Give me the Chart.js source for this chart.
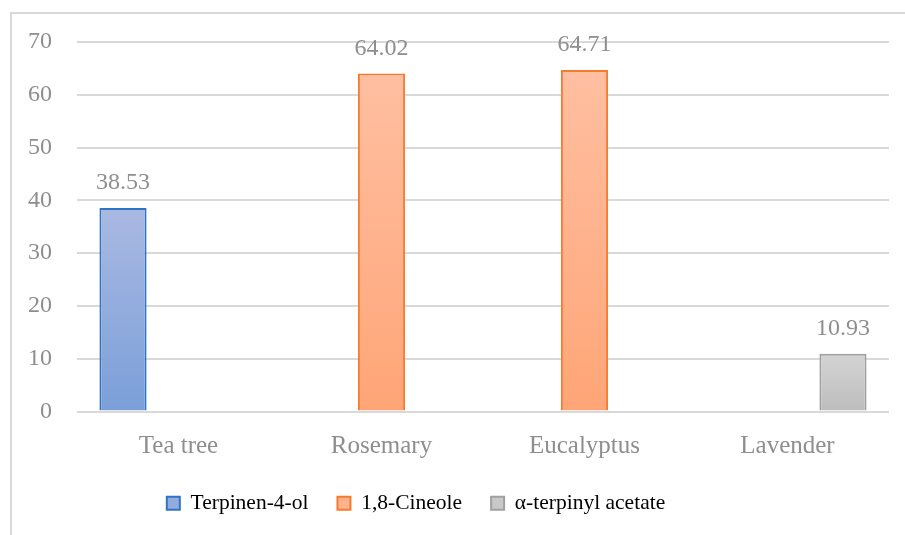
<!DOCTYPE html>
<html>
<head>
<meta charset="utf-8">
<script src="https://cdn.jsdelivr.net/npm/chart.js@4"></script>
<style>
html,body{margin:0;padding:0;background:#fff;}
#wrap{width:905px;height:535px;position:relative;}
</style>
</head>
<body>
<div id="wrap"><canvas id="c" width="905" height="535"></canvas></div>
<script>
const categories = ["Tea tree", "Rosemary", "Eucalyptus", "Lavender"];
const seriesNames = ["Terpinen-4-ol", "1,8-Cineole", "α-terpinyl acetate"];
const terpinen4ol = [38.53, null, null, null];
const cineole = [null, 64.02, 64.71, null];
const terpinylAcetate = [null, null, null, 10.93];
const yTicks = [0, 10, 20, 30, 40, 50, 60, 70];

const FONT = "'Liberation Serif', 'Times New Roman', serif";
const TEXT = '#8e8e8e';
const GRID = '#d9d9d9';

const palettes = [
  {top: '#a9b9e2', bottom: '#7b9fd9', border: '#2e75c6', mid: '#93acdd'},
  {top: '#ffbfa1', bottom: '#ffa577', border: '#f77b2f', mid: '#ffb28c'},
  {top: '#d4d4d4', bottom: '#bdbdbd', border: '#a0a0a0', mid: '#c8c8c8'}
];

function gradFill(idx) {
  return function(ctx) {
    const chart = ctx.chart;
    const p = palettes[idx];
    if (!chart.chartArea || ctx.type !== 'data' || ctx.raw == null) return p.mid;
    const y = chart.scales.y;
    const top = y.getPixelForValue(ctx.raw);
    const bot = y.getPixelForValue(0);
    const g = chart.ctx.createLinearGradient(0, top, 0, bot);
    g.addColorStop(0, p.top);
    g.addColorStop(1, p.bottom);
    return g;
  };
}

const frame = {
  id: 'frame',
  beforeDraw(chart) {
    const c = chart.ctx;
    c.save();
    c.strokeStyle = GRID;
    c.lineWidth = 2;
    c.beginPath();
    c.moveTo(11, 535);
    c.lineTo(11, 13);
    c.lineTo(905, 13);
    c.stroke();
    c.restore();
  }
};

const valueLabels = {
  id: 'valueLabels',
  afterDatasetsDraw(chart) {
    const c = chart.ctx;
    c.save();
    c.font = "24px " + FONT;
    c.fillStyle = TEXT;
    c.textAlign = 'center';
    c.textBaseline = 'alphabetic';
    chart.data.datasets.forEach((ds, i) => {
      const meta = chart.getDatasetMeta(i);
      meta.data.forEach((el, j) => {
        const v = ds.data[j];
        if (v == null) return;
        c.fillText(v.toFixed(2), el.x, el.y - 19);
      });
    });
    c.restore();
  }
};

const legendShift = {
  id: 'legendShift',
  afterLayout(chart) {
    const lg = chart.legend;
    if (!lg) return;
    const dx = 416 - (lg.left + lg.right) / 2;
    lg.left += dx;
    lg.right += dx;
    lg.top -= 11;
    lg.bottom -= 11;
  }
};

new Chart(document.getElementById('c'), {
  type: 'bar',
  data: {
    labels: categories,
    datasets: [
      {label: seriesNames[0], data: terpinen4ol, backgroundColor: gradFill(0), borderColor: palettes[0].border, borderWidth: 2},
      {label: seriesNames[1], data: cineole, backgroundColor: gradFill(1), borderColor: palettes[1].border, borderWidth: 2},
      {label: seriesNames[2], data: terpinylAcetate, backgroundColor: gradFill(2), borderColor: palettes[2].border, borderWidth: 2}
    ]
  },
  options: {
    responsive: false,
    animation: false,
    devicePixelRatio: 1,
    categoryPercentage: 0.82,
    barPercentage: 0.85,
    skipNull: false,
    layout: {padding: {left: 20, right: 16, top: 42, bottom: 0}},
    scales: {
      x: {
        grid: {display: false, drawTicks: false},
        border: {display: false},
        ticks: {color: TEXT, font: {family: FONT, size: 25}, padding: 20},
        afterFit(s) { s.height = 63; }
      },
      y: {
        min: 0, max: 70,
        afterBuildTicks(s) { s.ticks = yTicks.map(v => ({value: v})); },
        grid: {color: GRID, lineWidth: 2, drawTicks: false},
        border: {display: false},
        ticks: {color: TEXT, font: {family: FONT, size: 24}, padding: 25},
        afterFit(s) { s.width = 57; }
      }
    },
    plugins: {
      tooltip: {enabled: false},
      legend: {
        position: 'bottom',
        labels: {
          boxWidth: 13, boxHeight: 13,
          padding: 29,
          color: TEXT,
          font: {family: FONT, size: 21.5},
          generateLabels(chart) {
            return seriesNames.map((n, i) => ({
              text: n,
              fillStyle: palettes[i].mid,
              strokeStyle: palettes[i].border,
              lineWidth: 2,
              datasetIndex: i,
              hidden: false
            }));
          }
        }
      }
    }
  },
  plugins: [frame, valueLabels, legendShift]
});
</script>
</body>
</html>
